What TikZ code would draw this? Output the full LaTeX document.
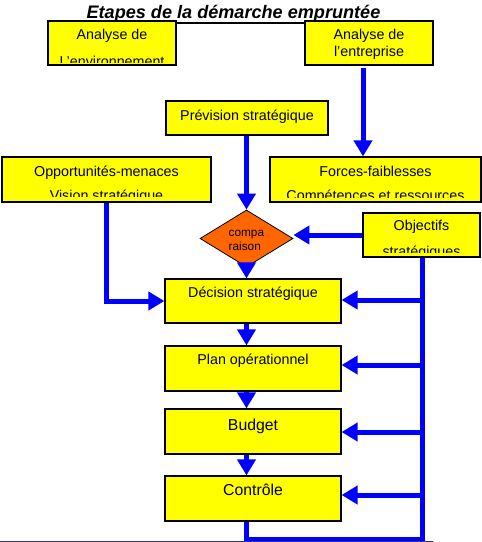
\documentclass[tikz,border=0pt]{standalone}
\usepackage{fontspec}
\setmainfont{Liberation Sans}
\usetikzlibrary{arrows.meta,shapes.geometric,calc}
\definecolor{bboxyellow}{HTML}{FFFF00}
\definecolor{dorange}{HTML}{FF6600}
\definecolor{arrblue}{HTML}{0000FF}
\definecolor{rulecol}{HTML}{333388}
\begin{document}
\begin{tikzpicture}[x=1pt,y=-1pt,
  ybox/.style={rectangle, draw=black, fill=bboxyellow, line width=1.2pt, inner sep=0pt},
  txt/.style={anchor=base, inner sep=0pt, font=\fontsize{14.3}{16}\selectfont},
  bigtxt/.style={anchor=base, inner sep=0pt, font=\fontsize{15.8}{18}\selectfont},
  smalltxt/.style={anchor=base west, inner sep=0pt, font=\fontsize{11.8}{13}\selectfont},
  blueline/.style={draw=arrblue, line width=5pt, line join=miter},
  arr/.style={blueline, -{Triangle[length=16pt,width=18pt]}}
]
\useasboundingbox (0,0) rectangle (482,542);

% title with underline
\node[anchor=base, inner sep=0pt, font=\bfseries\itshape\fontsize{18.1}{21}\selectfont] (title) at (233.5,18) {Etapes de la démarche empruntée};
\draw[line width=2.2pt] ([yshift=-5pt]title.base west) -- ([yshift=-5pt]title.base east);

% boxes
\node[ybox, minimum width=128pt, minimum height=44pt] (envA) at (112,43) {};
\node[ybox, minimum width=128pt, minimum height=44pt] (entA) at (369,43) {};
\node[ybox, minimum width=162pt, minimum height=34pt] (prev) at (247,118) {};
\node[ybox, minimum width=209pt, minimum height=45pt] (opp) at (106.5,179.5) {};
\node[ybox, minimum width=211pt, minimum height=45pt] (forc) at (375.5,179.5) {};
\node[ybox, minimum width=117pt, minimum height=44pt] (obj) at (421.5,235) {};
\node[ybox, minimum width=176pt, minimum height=44pt] (dec) at (253,301) {};
\node[ybox, minimum width=176pt, minimum height=45pt] (plan) at (253,368.5) {};
\node[ybox, minimum width=176pt, minimum height=45pt] (bud) at (253,431.5) {};
\node[ybox, minimum width=176pt, minimum height=45pt] (ctl) at (253,498.5) {};
\node[diamond, draw=black, fill=dorange, line width=0.8pt, inner sep=0pt, aspect=1.63,
      minimum width=93pt, minimum height=57pt] (diam) at (246.5,238.5) {};

% texts (clipped where the reference cuts them)
\begin{scope}
  \clip (48,21) rectangle (176,62);
  \node[txt] (envT1) at (112,39) {Analyse de};
  \node[txt] (envT2) at (112,66.5) {L’environnement};
\end{scope}
\node[txt] (entT1) at (369,39) {Analyse de};
\node[txt] (entT2) at (369,56.5) {l’entreprise};
\node[txt] (prevT) at (247,120) {Prévision stratégique};
\begin{scope}
  \clip (2,157) rectangle (211,196);
  \node[txt] (oppT1) at (106.5,176) {Opportunités-menaces};
  \node[txt] (oppT2) at (106.5,200.5) {Vision stratégique};
\end{scope}
\begin{scope}
  \clip (270,157) rectangle (481,197);
  \node[txt] (forcT1) at (375.5,176) {Forces-faiblesses};
  \node[txt] (forcT2) at (375.5,200.5) {Compétences et ressources};
\end{scope}
\begin{scope}
  \clip (363,213) rectangle (480,252.5);
  \node[txt] (objT1) at (421.5,230.7) {Objectifs};
  \node[txt] (objT2) at (421.5,256.5) {stratégiques};
\end{scope}
\node[smalltxt] (diamT1) at (228.5,236.5) {compa};
\node[smalltxt] (diamT2) at (228.5,250.5) {raison};
\node[txt] (decT) at (253,297.7) {Décision stratégique};
\node[txt] (planT) at (253,364) {Plan opérationnel};
\node[bigtxt] (budT) at (253,430) {Budget};
\node[bigtxt] (ctlT) at (253,495.7) {Contrôle};

% connectors
\draw[arr] ([xshift=-6pt,yshift=-2pt]entA.south) -- ([xshift=-6pt]entA.south |- forc.north);
\draw[arr] (prev.south -| diam.north) -- (diam.north);
\draw[arr] (obj.west) -- (obj.west -| diam.east);
\draw[arr] (diam.south) -- (diam.south |- dec.north);
\draw[arr] (opp.south) |- (dec.west);
\draw[arr] (dec.south -| diam.south) -- (plan.north -| diam.south);
\draw[arr] (plan.south -| diam.south) -- (bud.north -| diam.south);
\draw[arr] (bud.south -| diam.south) -- (ctl.north -| diam.south);

\coordinate (busBot) at (422.5,539.5);
\coordinate (dE) at ($(dec.east)+(0,-1)$);
\coordinate (pE) at ($(plan.east)+(0,-3.5)$);
\coordinate (bE) at ($(bud.east)+(0,0.5)$);
\coordinate (cE) at ($(ctl.east)+(0,-3.5)$);
\draw[blueline] (ctl.south -| diam.south) -- (busBot -| diam.south) -- (busBot) -- (obj.south -| busBot);
\draw[arr] (busBot |- dE) -- (dE);
\draw[arr] (busBot |- pE) -- (pE);
\draw[arr] (busBot |- bE) -- (bE);
\draw[arr] (busBot |- cE) -- (cE);

% bottom rule
\coordinate (ruleL) at (0,541.5);
\coordinate (ruleR) at (433,541.5);
\draw[rulecol, line width=1pt] (ruleL) -- (ruleR);
\end{tikzpicture}
\end{document}
